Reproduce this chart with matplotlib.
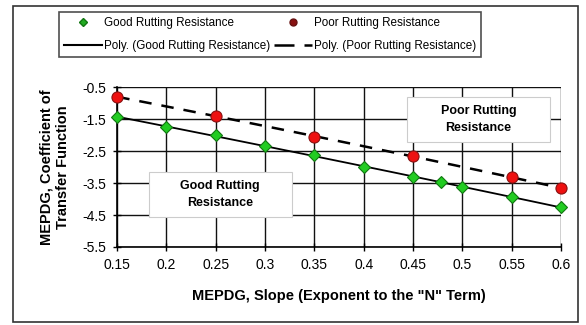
import numpy as np
import matplotlib
matplotlib.use('Agg')
import matplotlib.pyplot as plt
from matplotlib.patches import Rectangle
from matplotlib.lines import Line2D

plt.rcParams['font.family'] = ['Liberation Sans', 'DejaVu Sans']

# data
good_x = [0.15, 0.2, 0.25, 0.3, 0.35, 0.4, 0.45, 0.478, 0.5, 0.55, 0.6]
good_y = [-1.43, -1.76, -2.0, -2.34, -2.63, -2.99, -3.32, -3.48, -3.61, -3.95, -4.24]
poor_x = [0.15, 0.25, 0.35, 0.45, 0.55, 0.6]
poor_y = [-0.80, -1.41, -2.05, -2.66, -3.30, -3.67]
x_ticks = [0.15, 0.2, 0.25, 0.3, 0.35, 0.4, 0.45, 0.5, 0.55, 0.6]
y_ticks = [-5.5, -4.5, -3.5, -2.5, -1.5, -0.5]

fig = plt.figure(figsize=(5.86, 3.25), dpi=100)
ax = fig.add_axes([0.2, 0.24, 0.757, 0.492])

# outer chart frame
fig.patches.append(Rectangle((0.022, 0.01), 0.965, 0.972, transform=fig.transFigure,
                             fill=False, edgecolor='#333333', linewidth=1.2))

# Excel-style 2nd order polynomial trendlines
xs = np.linspace(0.15, 0.6, 100)
pg = np.polyfit(good_x, good_y, 2)
pp = np.polyfit(poor_x, poor_y, 2)
ax.plot(xs, np.polyval(pg, xs), color='black', lw=1.3, zorder=3)
ax.plot(xs, np.polyval(pp, xs), color='black', lw=1.8, ls=(0, (5, 4)), zorder=3)

ax.plot(good_x, good_y, ls='none', marker='D', ms=6, mfc='#22cc22', mec='#117711',
        mew=0.8, zorder=4, clip_on=False)
ax.plot(poor_x, poor_y, ls='none', marker='o', ms=8, mfc='#ee1111', mec='#881111',
        mew=0.8, zorder=4, clip_on=False)

ax.set_xlim(0.15, 0.6)
ax.set_ylim(-5.5, -0.5)
ax.set_xticks(x_ticks)
ax.set_xticklabels([f'{v:g}' for v in x_ticks], fontsize=10)
ax.set_yticks(y_ticks)
ax.set_yticklabels([f'{v:g}' for v in y_ticks], fontsize=10)
ax.tick_params(direction='inout', length=6, width=1, colors='black', pad=5)
ax.grid(True, color='#111111', lw=1)
ax.set_axisbelow(True)
for s in ['top', 'right']:
    ax.spines[s].set_visible(False)
for s in ['left', 'bottom']:
    ax.spines[s].set_linewidth(1.2)

ax.set_xlabel('MEPDG, Slope (Exponent to the "N" Term)', fontsize=10.5,
              fontweight='bold', labelpad=12)
ax.set_ylabel('MEPDG, Coefficient of\nTransfer Function', fontsize=10.5,
              fontweight='bold', labelpad=9)

# annotation boxes
for (x0, y0), label in [((0.182, -4.56), 'Good Rutting\nResistance'),
                        ((0.444, -2.22), 'Poor Rutting\nResistance')]:
    ax.add_patch(Rectangle((x0, y0), 0.145, 1.40, fc='white', ec='#cccccc',
                           lw=0.8, zorder=5))
    ax.text(x0 + 0.0725, y0 + 0.70, label, ha='center', va='center',
            fontsize=9, fontweight='bold', linespacing=1.5, zorder=6)

handles = [
    Line2D([], [], ls='none', marker='D', ms=4, mfc='#22aa22', mec='#117711'),
    Line2D([], [], color='black', lw=1.5),
    Line2D([], [], ls='none', marker='o', ms=5, mfc='#881111', mec='#661111'),
    Line2D([], [], color='black', lw=1.8, ls=(0, (8, 4))),
]
labels = ['Good Rutting Resistance', 'Poly. (Good Rutting Resistance)',
          'Poor Rutting Resistance', 'Poly. (Poor Rutting Resistance)']
leg = fig.legend(handles, labels, ncol=2, loc='upper left',
                 bbox_to_anchor=(0.09, 0.982), fontsize=8.4, frameon=True,
                 fancybox=False, edgecolor='#222222', handlelength=3.3,
                 columnspacing=0.3, handletextpad=0.15, borderpad=0.45,
                 labelspacing=0.95)
leg.get_frame().set_linewidth(1.2)

fig.savefig('out.png', dpi=100)
